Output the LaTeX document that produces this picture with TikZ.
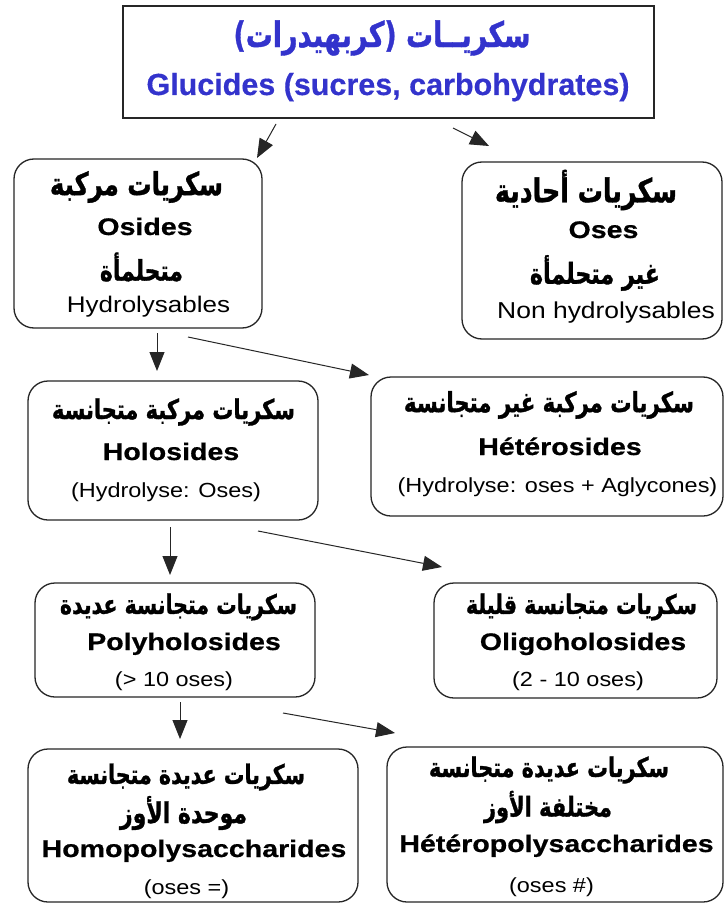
\documentclass[tikz,border=0pt]{standalone}
\usepackage{fontspec}
\usepackage{graphicx}
\usetikzlibrary{arrows.meta}
\TeXXeTstate=1
\setmainfont{Liberation Sans}
\newfontfamily\boxbold[FakeStretch=1.19,FakeBold=0.6]{Liberation Sans Bold}
\newfontfamily\topbold[FakeBold=0.4]{Liberation Sans Bold}
\newfontfamily\regf[FakeStretch=1.15]{Liberation Sans}
\newfontfamily\arf[Script=Arabic,FakeBold=1.2]{DejaVu Sans Bold}
\definecolor{gblue}{RGB}{51,51,204}
\newcommand\arl[2]{\scalebox{1}[1.3]{\resizebox{#1pt}{!}{\fontsize{22}{26}\arf #2}}}
\tikzset{
  sharpbox/.style={draw=black!85, line width=1.5pt, inner sep=0pt},
  rbox/.style={draw=black!85, line width=1.3pt, rounded corners=20pt, inner sep=0pt},
  lat/.style={inner sep=0pt, anchor=base},
  arab/.style={inner sep=0pt, anchor=center},
  bt/.style={lat, font=\fontsize{24}{28}\boxbold},
  rt/.style={lat, font=\fontsize{20.4}{24}\regf},
  arr/.style={draw=black!85, line width=1pt, -{Triangle[length=19pt,width=15pt]}}
}
\begin{document}
\begin{tikzpicture}[x=1pt,y=-1pt]
\useasboundingbox[fill=white] (0,0) rectangle (724,904);
% boxes
\node[sharpbox, minimum width=531pt, minimum height=112pt] (top) at (388.5,62) {};
\node[rbox, minimum width=248pt, minimum height=169pt] (osides) at (138,243.5) {};
\node[rbox, minimum width=260pt, minimum height=177pt] (oses) at (592,250.5) {};
\node[rbox, minimum width=290pt, minimum height=139pt] (holo) at (173,450.5) {};
\node[rbox, minimum width=352pt, minimum height=139pt] (hetero) at (547,446.5) {};
\node[rbox, minimum width=280pt, minimum height=114pt] (poly) at (175,640) {};
\node[rbox, minimum width=283pt, minimum height=115pt] (oligo) at (575.5,640.5) {};
\node[rbox, minimum width=330pt, minimum height=153pt] (homo) at (193,825.5) {};
\node[rbox, minimum width=336pt, minimum height=155pt] (hpoly) at (555,824.5) {};
% texts: top
\node[arab, text=gblue] (topA) at (382,38) {\arl{297}{\beginR سكريــات (كربهيدرات)\endR}};
\node[lat, text=gblue, font=\fontsize{30.5}{34}\topbold] (topB) at (388,95) {Glucides (sucres, carbohydrates)};
% osides
\node[arab] (osA) at (136.5,187) {\arl{173}{\beginR سكريات مركبة\endR}};
\node[bt] (osB) at (145,235) {Osides};
\node[arab] (osC) at (141.5,267) {\arl{83}{\beginR متحلمأة\endR}};
\node[lat, font=\fontsize{22.6}{26}\regf] (osD) at (148.5,312) {Hydrolysables};
% oses
\node[arab] (oeA) at (586,190) {\arl{182}{\beginR سكريات أحادية\endR}};
\node[bt] (oeB) at (603.5,238) {Oses};
\node[arab] (oeC) at (595,273) {\arl{130}{\beginR غير متحلمأة\endR}};
\node[lat, font=\fontsize{23}{27}\regf] (oeD) at (606,318) {Non hydrolysables};
% holosides
\node[arab] (hoA) at (173.5,412) {\arl{243}{\beginR سكريات مركبة متجانسة\endR}};
\node[bt] (hoB) at (171,460) {Holosides};
\node[rt] (hoC) at (166,497) {(Hydrolyse: Oses)};
% heterosides
\node[arab] (heA) at (549,405) {\arl{290}{\beginR سكريات مركبة غير متجانسة\endR}};
\node[bt] (heB) at (560,455) {Hétérosides};
\node[rt] (heC) at (557.5,492) {(Hydrolyse: oses + Aglycones)};
% polyholosides
\node[arab] (poA) at (178.5,607) {\arl{237}{\beginR سكريات متجانسة عديدة\endR}};
\node[bt] (poB) at (184,650) {Polyholosides};
\node[rt] (poC) at (174,686) {(> 10 oses)};
% oligoholosides
\node[arab] (olA) at (581.5,607) {\arl{231}{\beginR سكريات متجانسة قليلة\endR}};
\node[bt] (olB) at (583,650) {Oligoholosides};
\node[rt] (olC) at (578,686) {(2 - 10 oses)};
% homopolysaccharides
\node[arab] (hmA) at (186,777) {\arl{238}{\beginR سكريات عديدة متجانسة\endR}};
\node[arab] (hmB) at (183.5,813) {\arl{127}{\beginR موحدة الأوز\endR}};
\node[bt] (hmC) at (194,857) {Homopolysaccharides};
\node[rt] (hmD) at (186.5,894) {(oses =)};
% heteropolysaccharides
\node[arab] (hpA) at (549,770) {\arl{240}{\beginR سكريات عديدة متجانسة\endR}};
\node[arab] (hpB) at (548,807) {\arl{128}{\beginR مختلفة الأوز\endR}};
\node[bt] (hpC) at (556.5,852) {Hétéropolysaccharides};
\node[rt] (hpD) at (551.5,892) {(oses \#)};
% arrow end points
\coordinate (a1s) at (276,124); \coordinate (a1e) at (257,158);
\coordinate (a2s) at (453,128); \coordinate (a2e) at (489,146);
\coordinate (a3s) at (157,333); \coordinate (a3e) at (157,371);
\coordinate (a4s) at (188,337); \coordinate (a4e) at (369,375);
\coordinate (a5s) at (170,527); \coordinate (a5e) at (170,575);
\coordinate (a6s) at (258,531); \coordinate (a6e) at (442,567);
\coordinate (a7s) at (180,702); \coordinate (a7e) at (180,739);
\coordinate (a8s) at (283,713); \coordinate (a8e) at (395,733);
\draw[arr] (a1s) -- (a1e);
\draw[arr] (a2s) -- (a2e);
\draw[arr] (a3s) -- (a3e);
\draw[arr] (a4s) -- (a4e);
\draw[arr] (a5s) -- (a5e);
\draw[arr] (a6s) -- (a6e);
\draw[arr] (a7s) -- (a7e);
\draw[arr] (a8s) -- (a8e);
\end{tikzpicture}
\end{document}
